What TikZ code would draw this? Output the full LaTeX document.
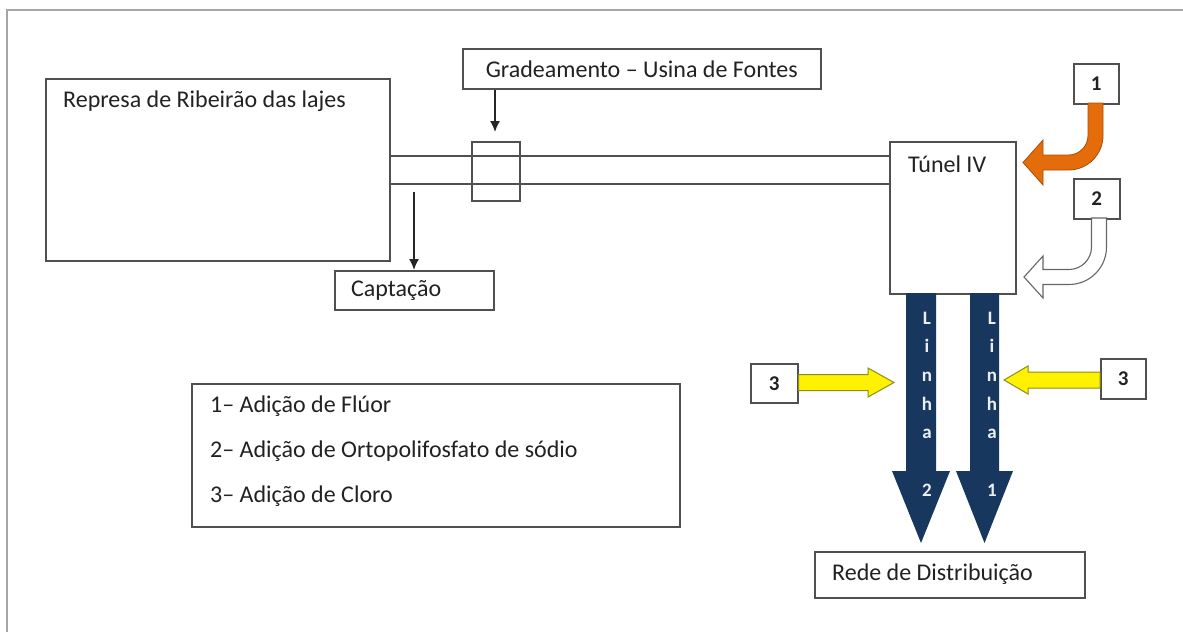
\documentclass[tikz,border=0pt]{standalone}
\usepackage{fontspec}
\setmainfont{Carlito}
\usetikzlibrary{arrows.meta}
\definecolor{linegray}{HTML}{505050}
\definecolor{framegray}{HTML}{A6A6A6}
\definecolor{txtgray}{HTML}{222222}
\definecolor{navy}{HTML}{17375E}
\definecolor{orangefill}{HTML}{E46C0A}
\definecolor{orangeedge}{HTML}{A84F08}
\definecolor{yellowedge}{HTML}{8C8C20}
\begin{document}
\begin{tikzpicture}[x=1pt,y=-1pt,
  box/.style={draw=linegray, line width=1.6pt, fill=white, inner sep=0pt, anchor=north west},
  lbl/.style={font=\fontsize{24}{28}\selectfont, text=txtgray, inner sep=0pt},
  num/.style={font=\fontsize{21}{24}\selectfont\bfseries, text=txtgray, inner sep=0pt},
  vtxt/.style={font=\fontsize{19}{23}\selectfont\bfseries, text=white!92!navy, inner sep=0pt, anchor=base},
  pipe/.style={draw=linegray, line width=1.6pt},
  arr/.style={draw=black!85, line width=1.5pt, -{Latex[length=11pt,width=10pt]}},
  navyarrow/.style={fill=navy},
  yarrow/.style={fill=yellow, draw=yellowedge, line width=1pt, line join=miter},
]
\useasboundingbox (0,0) rectangle (1183,632);
% outer frame (top and left edges)
\draw[framegray, line width=1.5pt] (7,632) -- (7,10) -- (1183,10);

% nodes (boxes)
\node[box, minimum width=344pt, minimum height=182pt] (rep) at (45,78) {};
\node[lbl, anchor=west] (reptxt) at (63,101) {Represa de Ribeirão das lajes};
\node[box, minimum width=126pt, minimum height=152pt] (tun) at (889,141) {};
\node[lbl, anchor=west] (tuntxt) at (908,164) {Túnel IV};

% pipes
\coordinate (py1) at (0,156);
\coordinate (py2) at (0,184);
\draw[pipe] (rep.east |- py1) -- (tun.west |- py1);
\draw[pipe] (rep.east |- py2) -- (tun.west |- py2);

\node[box, minimum width=48pt, minimum height=59pt, fill=none] (gbox) at (471,141) {};
\node[box, minimum width=358pt, minimum height=40pt] (grad) at (462,48) {};
\node[lbl] (gradtxt) at (grad.center) {Gradeamento – Usina de Fontes};
\coordinate (ga) at (495,132);
\draw[arr] (ga |- grad.south) -- (ga);

\node[box, minimum width=159pt, minimum height=39pt] (cap) at (334,270) {};
\node[lbl, anchor=west] (captxt) at (351,290) {Captação};
\coordinate (ca) at (414,192);
\draw[arr] (ca) -- (ca |- cap.north);

% legend
\node[box, minimum width=488pt, minimum height=143pt] (leg) at (191,383) {};
\node[lbl, anchor=west] (leg1) at (210,406) {1– Adição de Flúor};
\node[lbl, anchor=west] (leg2) at (210,451) {2– Adição de Ortopolifosfato de sódio};
\node[lbl, anchor=west] (leg3) at (210,496) {3– Adição de Cloro};

% number boxes
\node[box, minimum width=45pt, minimum height=40pt] (n1) at (1073,63) {};
\node[num] (n1t) at (n1.center) {1};
\node[box, minimum width=46pt, minimum height=40pt] (n2) at (1073,178) {};
\node[num] (n2t) at (n2.center) {2};
\node[box, minimum width=47pt, minimum height=39pt] (n3l) at (750,363) {};
\node[num] (n3lt) at (n3l.center) {3};
\node[box, minimum width=45pt, minimum height=40pt] (n3r) at (1100,358) {};
\node[num] (n3rt) at (n3r.center) {3};

% rede
\node[box, minimum width=270pt, minimum height=46pt] (rede) at (814,551) {};
\node[lbl, anchor=west] (redetxt) at (832,574) {Rede de Distribuição};

% orange curved arrow (1)
\fill[orangefill, draw=orangeedge, line width=0.8pt]
  (1088,103) -- (1103,103) -- (1103,135.5)
  .. controls (1103,154.6) and (1087.6,170) .. (1068.5,170)
  -- (1043,170) -- (1043,185) -- (1023,162.5) -- (1043,140) -- (1043,155)
  -- (1068.5,155) .. controls (1079.3,155) and (1088,146.3) .. (1088,135.5) -- cycle;

% white curved arrow (2)
\filldraw[fill=white, draw=gray!80!black, line width=1.1pt]
  (1091.5,218) -- (1106.5,218) -- (1106.5,247)
  .. controls (1106.5,267.7) and (1089.7,284.5) .. (1069,284.5)
  -- (1043,284.5) -- (1043,298) -- (1024,277) -- (1043,256) -- (1043,269.5)
  -- (1069,269.5) .. controls (1081.4,269.5) and (1091.5,259.4) .. (1091.5,247) -- cycle;

% navy arrows (Linha 2 and Linha 1)
\fill[navyarrow] (906,293) -- (936,293) -- (936,471) -- (950,471) -- (921,543)
  -- (892,471) -- (906,471) -- cycle;
\fill[navyarrow] (970,293) -- (999,293) -- (999,471) -- (1013,471) -- (984.5,543)
  -- (956,471) -- (970,471) -- cycle;
\foreach \t [count=\i] in {L,i,n,h,a} {
  \node[vtxt] (la\i) at (927,{324+28.7*(\i-1)}) {\t};
  \node[vtxt] (lb\i) at (992,{324+28.7*(\i-1)}) {\t};
}
\node[vtxt] (la6) at (927,496) {2};
\node[vtxt] (lb6) at (992,496) {1};

% yellow arrows (3)
\filldraw[yarrow] (n3l.east |- 0,374.5) -- (868,374.5) -- (868,368) -- (894,382.5)
  -- (868,397) -- (868,390.5) -- (n3l.east |- 0,390.5) -- cycle;
\filldraw[yarrow] (n3r.west |- 0,372) -- (1028,372) -- (1028,366) -- (1004,380)
  -- (1028,394) -- (1028,388) -- (n3r.west |- 0,388) -- cycle;
\end{tikzpicture}
\end{document}
